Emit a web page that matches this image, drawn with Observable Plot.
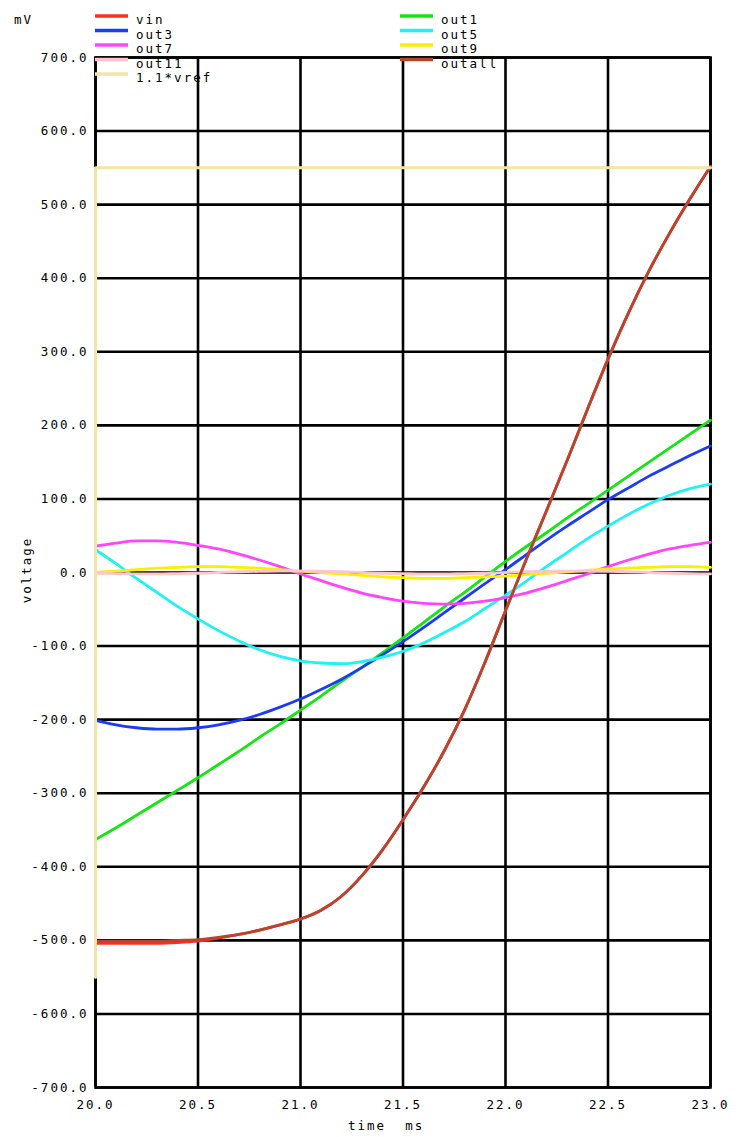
<!DOCTYPE html>
<html><head><meta charset="utf-8">
<script src="https://cdn.jsdelivr.net/npm/d3@7"></script>
<script src="https://cdn.jsdelivr.net/npm/@observablehq/plot@0.6"></script>
<style>
html,body{margin:0;padding:0;background:#fff;}
#chart{position:relative;width:736px;height:1137px;}
#chart svg text{letter-spacing:2px;}
</style></head><body><div id="chart"></div>
<script>
// time in ms
const times = [20.0,20.1,20.2,20.3,20.4,20.5,20.6,20.7,20.8,20.9,21.0,21.1,21.2,21.3,21.4,21.5,21.6,21.7,21.8,21.9,22.0,22.1,22.2,22.3,22.4,22.5,22.6,22.7,22.8,22.9,23.0];
// voltages in mV
const vin    = [-504,-504,-504,-504,-503,-501,-497,-492,-486,-479,-471,-459,-440,-412,-377,-336,-292,-243,-187,-122,-52,17,84,152,222,290,353,410,461,508,552];
const out1   = [-363,-347,-330,-313,-296,-279,-261,-243,-224,-206,-187,-168,-148,-129,-109,-89,-68,-47,-27,-6,15,35,54,74,93,112,131,150,169,188,207];
const out3   = [-201,-207,-211,-213,-213,-211,-207,-201,-193,-183,-172,-159,-145,-129,-112,-94,-75,-55,-35,-15,4,24,44,63,81,99,115,131,145,159,172];
const out5   = [31,12,-8,-27,-46,-63,-79,-93,-105,-114,-120,-123,-124,-121,-115,-107,-96,-82,-67,-49,-31,-12,8,27,46,63,79,93,105,114,120];
const out7   = [36,40,43,43,41,37,32,25,17,8,-2,-11,-20,-28,-34,-39,-42,-43,-42,-39,-34,-28,-20,-11,-2,8,17,25,32,37,41];
const out9   = [0,2,4,6,7,8,8,7,6,4,2,0,-2,-4,-6,-7,-8,-8,-7,-6,-5,-3,-1,1,3,5,6,7,8,8,7];
const out11  = [-1,-1.5,-2,-2,-1.5,-1,0,1,1.5,2,2,1.5,1,0,-1,-1.5,-2,-2,-1.5,-1,0,1,1.5,2,2,1.5,1,0,-1,-1.5,-2];
const outall = [-501,-501,-501,-501,-500,-499,-496,-492,-486,-479,-471,-459,-440,-412,-377,-336,-292,-243,-187,-122,-52,17,84,152,222,290,353,410,461,508,552];
// 1.1*vref step
const vrefT = [20, 20, 23];
const vrefV = [-550, 550, 550];

const xTicks = [20.0,20.5,21.0,21.5,22.0,22.5,23.0];
const yTicks = [-700,-600,-500,-400,-300,-200,-100,0,100,200,300,400,500,600,700];

const legendCol1 = ["vin","out3","out7","out11","1.1*vref"];
const legendCol2 = ["out1","out5","out9","outall"];

const colors = {
  "vin":"#ff2f1f","out1":"#14e614","out3":"#1a3cf5","out5":"#1ff2f2",
  "out7":"#ff45ff","out9":"#f8f000","out11":"#ffc4cc","outall":"#b8432f","1.1*vref":"#f3e6a2"
};

const series = [["vin",vin],["out1",out1],["out3",out3],["out5",out5],["out7",out7],["out9",out9],["out11",out11],["outall",outall]];

const lineMarks = series.map(([name, vals]) =>
  Plot.line(times.map((t,i)=>({t, v: vals[i]})), {x:"t", y:"v", stroke: colors[name], strokeWidth: 2.8, curve:"monotone-x"})
);

const gridStyle = {stroke:"black", strokeOpacity:1, strokeWidth:2.6};

const plot = Plot.plot({
  width:736, height:1137,
  marginLeft:95, marginRight:26, marginTop:57, marginBottom:50,
  x:{domain:[20,23]},
  y:{domain:[-700,700]},
  style:{fontFamily:"'DejaVu Sans Mono', monospace", fontSize:"12.5px", color:"black", background:"white"},
  marks:[
    Plot.gridX(xTicks, gridStyle),
    Plot.gridY(yTicks, gridStyle),
    Plot.frame({stroke:"black", strokeWidth:2.6}),
    Plot.axisX(xTicks, {tickSize:0, tickPadding:13, tickFormat:d=>d.toFixed(1), label:null}),
    Plot.axisY(yTicks, {tickSize:0, tickPadding:7, tickFormat:d=>d.toFixed(1), label:null}),
    ...lineMarks,
    Plot.line(vrefT.map((t,i)=>({t, v: vrefV[i]})), {x:"t", y:"v", stroke: colors["1.1*vref"], strokeWidth: 3})
  ]
});

document.getElementById("chart").appendChild(plot);

const svg = d3.select(plot);
const lg = svg.append("g").attr("fill","black").attr("text-anchor","start");
function legendEntry(name, x0, y) {
  lg.append("line").attr("x1",x0).attr("x2",x0+33).attr("y1",y).attr("y2",y)
    .attr("stroke",colors[name]).attr("stroke-width",3.5);
  lg.append("text").attr("x",x0+41).attr("y",y+8).attr("text-anchor","start").text(name);
}
legendCol1.forEach((n,i)=>legendEntry(n, 95, 16 + i*14.5));
legendCol2.forEach((n,i)=>legendEntry(n, 400, 16 + i*14.5));

svg.append("text").attr("x",14).attr("y",24).attr("text-anchor","start").attr("fill","black").text("mV");
svg.append("text").attr("x",348).attr("y",1130).attr("text-anchor","start").attr("fill","black").style("white-space","pre").attr("xml:space","preserve").text("time  ms");
svg.append("text").attr("transform","translate(31,570) rotate(-90)").attr("text-anchor","middle").attr("fill","black").text("voltage");
</script></body></html>
